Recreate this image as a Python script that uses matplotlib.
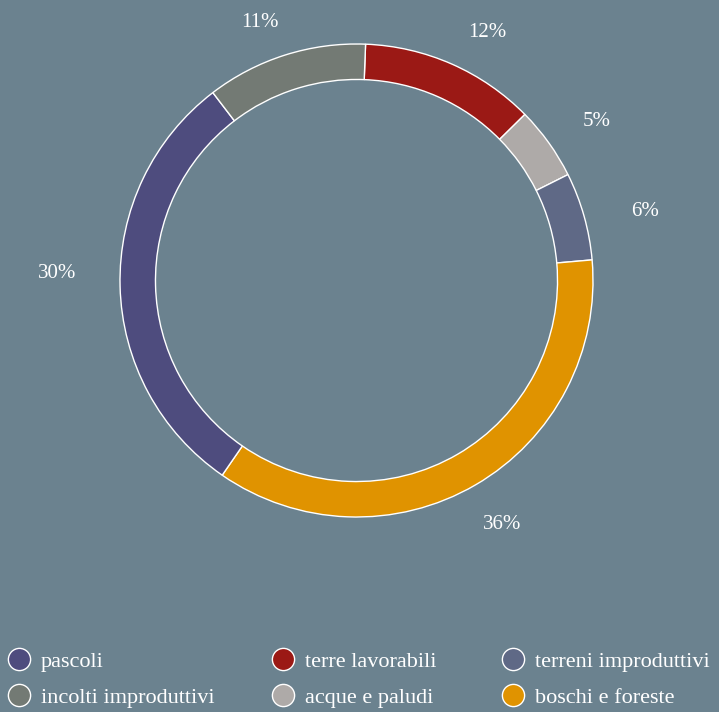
import numpy as np
import matplotlib.pyplot as plt
from matplotlib.lines import Line2D

# dati (ordine del ciclo, in senso orario dall'alto)
categorie = ["terre lavorabili", "acque e paludi", "terreni improduttivi",
             "boschi e foreste", "pascoli", "incolti improduttivi"]
valori = [12, 5, 6, 36, 30, 11]
colori = ["#9b1915", "#aeaaa8", "#5f6986", "#e09300", "#4e4c7e", "#737a74"]

# ordine della legenda (per colonne)
colonne_legenda = [["pascoli", "incolti improduttivi"],
                   ["terre lavorabili", "acque e paludi"],
                   ["terreni improduttivi", "boschi e foreste"]]

# distanza e piccolo spostamento angolare delle etichette percentuali
dist_etichette = [1.184, 1.218, 1.255, 1.202, 1.266, 1.166]
spost_angolo = [-4.0, -2.2, -2.3, 0.5, -2.8, 2.9]

sfondo = "#6b828f"
plt.rcParams['font.family'] = ['Liberation Serif', 'DejaVu Serif']

fig = plt.figure(figsize=(7.19, 7.12), dpi=100, facecolor=sfondo)
ax = fig.add_axes([120 / 719, 1 - 517 / 712, 473 / 719, 473 / 712])
ax.set_facecolor(sfondo)

wedges, testi, pct = ax.pie(
    valori, colors=colori, startangle=87.8, counterclock=False,
    radius=1, autopct=lambda p: "%.0f%%" % p, pctdistance=1.2,
    wedgeprops=dict(width=0.15, edgecolor="white", linewidth=1),
    textprops=dict(color="white", fontsize=15))
for w, t, r, da in zip(wedges, pct, dist_etichette, spost_angolo):
    ang = np.deg2rad((w.theta1 + w.theta2) / 2 + da)
    t.set_position((r * np.cos(ang), r * np.sin(ang)))
ax.set_xlim(-1, 1)
ax.set_ylim(-1, 1)
ax.set_aspect("equal")

colore_di = dict(zip(categorie, colori))
xs = [-5 / 719, 259 / 719, 489 / 719]
for x, nomi in zip(xs, colonne_legenda):
    maniglie = [Line2D([], [], linestyle="none", marker="o", markersize=16,
                       markerfacecolor=colore_di[n], markeredgecolor="white",
                       markeredgewidth=1) for n in nomi]
    leg = fig.legend(maniglie, nomi, loc="lower left",
                     bbox_to_anchor=(x, -9 / 712), frameon=False, fontsize=16,
                     labelcolor="white", handlelength=1.0, handletextpad=0.45,
                     labelspacing=0.7, borderaxespad=0.2)

fig.savefig("out.png", dpi=100, facecolor=sfondo)
